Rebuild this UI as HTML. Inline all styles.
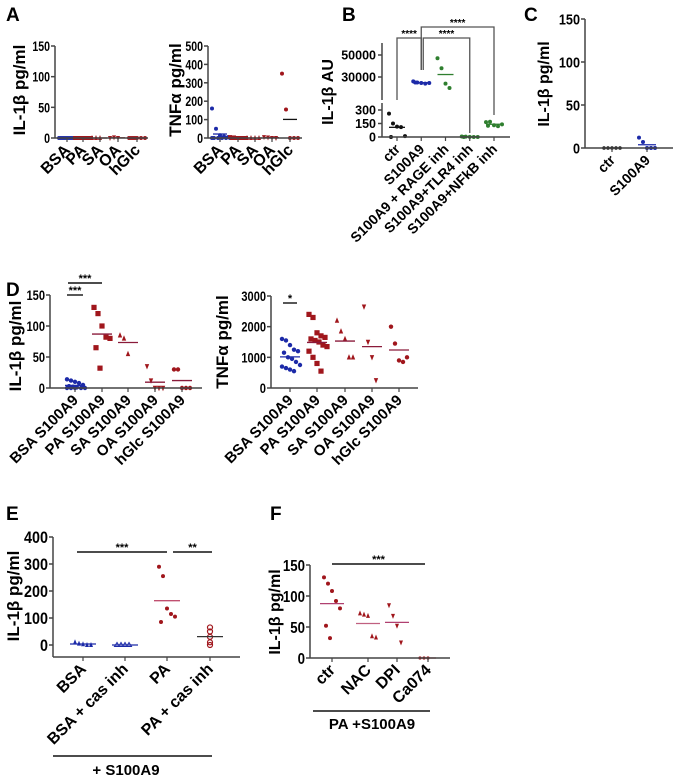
<!DOCTYPE html>
<html><head><meta charset="utf-8"><style>
html,body{margin:0;padding:0;background:#fff;}
svg{display:block;font-family:"Liberation Sans",Arial,sans-serif;font-weight:bold;}
</style></head><body>
<svg id="fig" width="676" height="781" viewBox="0 0 676 781"></svg>
<script>
// ---- data arrays ----
const aCats=["BSA","PA","SA","OA","hGlc"];
const aIL_BSA=[0,0,0,0,0,0,0,0,0],aIL_PA=[0,0,0,0,0,0,0,0,0],aIL_SA=[0,0,0],aIL_OA=[0,1,0],aIL_hGlc=[0,0,0,0,0,0,0];
const aTNF_BSA=[160,50,15,8,5,0,0,0,0,0,0],aTNF_PA=[5,3,0,0,0,0,0,0],aTNF_SA=[0,0,0,0],aTNF_OA=[5,3,0,0],aTNF_hGlc=[350,155,0,0,0];
const aILTicks=[0,50,100,150],aTNFTicks=[0,100,200,300,400,500];
const bCats=["ctr","S100A9","S100A9 + RAGE inh","S100A9+TLR4 inh","S100A9+NFkB inh"];
const bCtr=[260,150,115,110,10,0],bS100=[26000,25000,24500,24000,24500,25000],bRAGE=[47000,38000,24000,20000],bTLR4=[6,4,2,0,0,0],bNFkB=[165,170,130,120,140,125];
const bTicksLow=[0,150,300],bTicksHigh=[30000,50000];
const cCats=["ctr","S100A9"];
const cCtr=[0,0,0,0,0],cS100=[12,7,0,0,0];
const cTicks=[0,50,100,150];
const dCats=["BSA S100A9","PA S100A9","SA S100A9","OA S100A9","hGlc S100A9"];
const dIL_BSA=[14,12,10,8,5,3,2,1,0,0,0,0,0],dIL_PA=[130,120,100,82,80,65,32],dIL_SA=[85,80,55],dIL_OA=[35,12,0,0,0],dIL_hGlc=[30,30,0,0,0];
const dTNF_BSA=[1600,1550,1400,1250,1200,1150,1000,950,850,750,700,650,600,550],dTNF_PA=[2400,2300,1800,1700,1650,1600,1550,1500,1400,1350,1200,1000,800,550],dTNF_SA=[2200,1850,1600,1000,1000],dTNF_OA=[2650,1500,1000,250],dTNF_hGlc=[2000,1450,900,850,1000];
const dILTicks=[0,50,100,150],dTNFTicks=[0,1000,2000,3000];
const eCats=["BSA","BSA + cas inh","PA","PA + cas inh"];
const eBSA=[10,5,3,0,0],eBSAcas=[0,0,0,0],ePA=[290,255,135,115,105,85],ePAcas=[65,50,30,10,0];
const eTicks=[0,100,200,300,400];
const fCats=["ctr","NAC","DPI","Ca074"];
const fCtr=[130,120,108,92,80,52,32],fNAC=[72,70,68,35,33],fDPI=[85,68,52,25],fCa=[0,0,0];
const fTicks=[0,50,100,150];

const svg=document.getElementById('fig');
const NS="http://www.w3.org/2000/svg";
function mk(tag,attrs,parent){const e=document.createElementNS(NS,tag);for(const k in attrs)e.setAttribute(k,attrs[k]);(parent||svg).appendChild(e);return e;}
function txt(s,attrs,parent){const e=mk('text',attrs,parent);e.textContent=s;return e;}
const mean=a=>a.reduce((p,c)=>p+c,0)/a.length;
function marker(g,shape,x,y,col,r){
  let e;
  if(shape==='circle'){e=mk('circle',{cx:x,cy:y,r:r,fill:col},g);}
  else if(shape==='ocircle'){e=mk('circle',{cx:x,cy:y,r:r,fill:'none',stroke:col,'stroke-width':1.2},g);}
  else if(shape==='square'){e=mk('rect',{x:x-r,y:y-r,width:2*r,height:2*r,fill:col},g);}
  else if(shape==='tri'){e=mk('polygon',{points:`${x},${y-r-1} ${x-r},${y+r} ${x+r},${y+r}`,fill:col},g);}
  else if(shape==='otri'){e=mk('polygon',{points:`${x},${y-r} ${x-r},${y+r-1} ${x+r},${y+r-1}`,fill:'none',stroke:col,'stroke-width':1},g);}
  else {e=mk('polygon',{points:`${x-r},${y-r} ${x+r},${y-r} ${x},${y+r+1}`,fill:col},g);}
  return e;
}
function series(g,vals,cx,ys,col,shape,r,meanCol,mw){
  const n=vals.length;
  vals.forEach((v,i)=>{
    const off=((i%5)-2)*4+(Math.floor(i/5)%2?2:0);
    const m=marker(g,shape,cx+(n>1?off:0),ys(v),col,r);
    
    
  });
  const ml=mk('line',{x1:cx-mw,x2:cx+mw,y1:ys(mean(vals)),y2:ys(mean(vals)),stroke:meanCol||col,'stroke-width':1.3},g);
  
  
}
function axisY(g,x,y0,y1,ticks,ys,fs,wf){
  mk('line',{x1:x,x2:x,y1:y0,y2:y1,stroke:'#444','stroke-width':1.5},g);
  ticks.forEach(t=>{const y=ys(t);mk('line',{x1:x-4,x2:x,y1:y,y2:y,stroke:'#444','stroke-width':1.5},g);
    const s=String(t);
    txt(s,{x:x-5,y:y+fs*0.36,'text-anchor':'end','font-size':fs,textLength:(fs*(wf||0.47)*s.length).toFixed(1),lengthAdjust:'spacingAndGlyphs'},g);});
}
function axisX(g,x0,x1,y,xs,cats,fs){
  mk('line',{x1:x0,x2:x1,y1:y,y2:y,stroke:'#444','stroke-width':1.5},g);
  cats.forEach((c,i)=>{const x=xs[i];mk('line',{x1:x,x2:x,y1:y,y2:y+4,stroke:'#444','stroke-width':1.2},g);
    const t=txt(c,{x:x+4,y:y+13,'text-anchor':'end','font-size':fs,transform:`rotate(-45 ${x+4} ${y+13})`},g);
    
    });
}
function ytitle(g,s,x,y,fs){const t=txt(s,{x:x,y:y,'text-anchor':'middle','font-size':fs,transform:`rotate(-90 ${x} ${y})`},g);}
function plabel(s,x,y){const t=txt(s,{x:x,y:y,'font-size':19},svg);}
function lin(d0,d1,r0,r1){return v=>r0+(v-d0)*(r1-r0)/(d1-d0);}
function even(x0,x1,n){const a=[];for(let i=0;i<n;i++)a.push(x0+(x1-x0)*i/(n-1));return a;}
function grp(name){const g=mk('g',{});return g;}
function star(g,s,x1,x2,y){mk('line',{x1:x1,x2:x2,y1:y,y2:y,stroke:'#111','stroke-width':1.4},g);txt(s,{x:(x1+x2)/2,y:y-1,'text-anchor':'middle','font-size':11},g);}

const BL='#1c2aa8',RD='#a0161c',GR='#2f7f2f',BK='#111';

// Panel A
plabel('A',6,21);
{const g=grp('panel-a-il1b');const ys=lin(0,150,138,46);const xs=[67,83,100,118,137];
 axisY(g,55,46,138,aILTicks,ys,14,0.42);
 [aIL_BSA,aIL_PA,aIL_SA,aIL_OA,aIL_hGlc].forEach((s,i)=>series(g,s,xs[i],ys,i?RD:BL,['circle','square','tri','inv','circle'][i],2,i?RD:BL,7));
 axisX(g,55,148,138,xs,aCats,16);ytitle(g,'IL-1β pg/ml',25,90,17);}
{const g=grp('panel-a-tnf');const ys=lin(0,500,138,46);const xs=[220,238,255,272,290];
 axisY(g,208,46,138,aTNFTicks,ys,14,0.42);
 [aTNF_BSA,aTNF_PA,aTNF_SA,aTNF_OA,aTNF_hGlc].forEach((s,i)=>series(g,s,xs[i],ys,i?RD:BL,['circle','square','tri','inv','circle'][i],2,i==4?BK:(i?RD:BL),7));
 axisX(g,208,302,138,xs,aCats,16);ytitle(g,'TNFα pg/ml',181,90,17);}

// Panel B
plabel('B',342,21);
{const g=grp('panel-b');const xs=even(397,494,5);
 const yl=lin(0,300,137,110),yh=lin(30000,50000,77,55);
 const ys=v=>v>1000?yh(v):yl(v);
 mk('line',{x1:382,x2:382,y1:43,y2:100,stroke:'#444','stroke-width':1.5},g);
 mk('line',{x1:382,x2:382,y1:103,y2:137,stroke:'#444','stroke-width':1.5},g);
 bTicksHigh.forEach(t=>{mk('line',{x1:378,x2:382,y1:yh(t),y2:yh(t),stroke:'#444','stroke-width':1.5},g);txt(String(t),{x:376,y:yh(t)+4.5,'text-anchor':'end','font-size':12.5},g);});
 bTicksLow.forEach(t=>{mk('line',{x1:378,x2:382,y1:yl(t),y2:yl(t),stroke:'#444','stroke-width':1.5},g);txt(String(t),{x:376,y:yl(t)+4.5,'text-anchor':'end','font-size':12.5},g);});
 [bCtr,bS100,bRAGE,bTLR4,bNFkB].forEach((s,i)=>series(g,s,xs[i],ys,[BK,BL,GR,GR,GR][i],'circle',2,[BK,BL,GR,GR,GR][i],8));
 axisX(g,382,510,137,xs,bCats,14);ytitle(g,'IL-1β AU',333,92,16);
 const br=(x1,x2,ya,yb,yt,s)=>{mk('polyline',{points:`${x1},${ya} ${x1},${yt} ${x2},${yt} ${x2},${yb}`,fill:'none',stroke:'#555','stroke-width':1.3},g);txt(s,{x:(x1+x2)/2,y:yt-1,'text-anchor':'middle','font-size':10},g);};
 br(xs[0],xs[1],100,70,38,'****');br(xs[1]+2,xs[3],70,133,38,'****');br(xs[1],xs[4],70,115,27,'****');}

// Panel C
plabel('C',524,21);
{const g=grp('panel-c');const ys=lin(0,150,148,19);const xs=[612,647];
 axisY(g,585,19,148,cTicks,ys,15,0.47);
 series(g,cCtr,xs[0],ys,BK,'circle',1.8,BK,9);series(g,cS100,xs[1],ys,BL,'circle',2,BL,9);
 axisX(g,585,673,148,xs,cCats,14);ytitle(g,'IL-1β pg/ml',549,84,16);}

// Panel D
plabel('D',6,296);
{const g=grp('panel-d-il1b');const ys=lin(0,150,388,295);const xs=[75,102,128,155,182];
 axisY(g,50,295,388,dILTicks,ys,14,0.44);
 [dIL_BSA,dIL_PA,dIL_SA,dIL_OA,dIL_hGlc].forEach((s,i)=>series(g,s,xs[i],ys,i?RD:BL,['circle','square','tri','inv','circle'][i],i==1?2.6:2.2,i?'#8a1a3a':BL,10));
 axisX(g,50,202,388,xs,dCats,15);ytitle(g,'IL-1β pg/ml',21,346,17);
 star(g,'***',67,83,295);star(g,'***',68,102,283);}
{const g=grp('panel-d-tnf');const ys=lin(0,3000,388,296);const xs=[290,317,345,372,399];
 axisY(g,271,296,388,dTNFTicks,ys,14,0.44);
 [dTNF_BSA,dTNF_PA,dTNF_SA,dTNF_OA,dTNF_hGlc].forEach((s,i)=>series(g,s,xs[i],ys,i?RD:BL,['circle','square','tri','inv','circle'][i],i==1?2.6:2.2,i?'#8a1a3a':BL,10));
 axisX(g,271,418,388,xs,dCats,15);ytitle(g,'TNFα pg/ml',228,342,17);
 star(g,'*',283,297,303);}

// Panel E
plabel('E',6,520);
{const g=grp('panel-e');const ys=lin(0,400,645,537);const xs=[83,125,167,210];
 axisY(g,53,537,657,eTicks,ys,17,0.47);
 series(g,eBSA,xs[0],ys,BL,'tri',2,BL,13);series(g,eBSAcas,xs[1],ys,BL,'otri',2.5,BL,13);
 series(g,ePA,xs[2],ys,RD,'circle',2,'#c05070',13);
 const pc=mk('g',{},g);ePAcas.forEach((v,i)=>{const m=marker(pc,'ocircle',xs[3],ys(v),RD,2.5);});
 mk('line',{x1:xs[3]-13,x2:xs[3]+13,y1:ys(mean(ePAcas)),y2:ys(mean(ePAcas)),stroke:'#333','stroke-width':1.3},g);
 axisX(g,53,240,657,xs,eCats,16);ytitle(g,'IL-1β pg/ml',19,596,17);
 star(g,'***',77,167,552);star(g,'**',173,212,552);
 mk('line',{x1:53,x2:212,y1:756,y2:756,stroke:'#111','stroke-width':1.5},g);
 txt('+ S100A9',{x:126,y:775,'text-anchor':'middle','font-size':15},g);}

// Panel F
plabel('F',270,520);
{const g=grp('panel-f');const ys=lin(0,150,658,565);const xs=[332,368,397,428];
 axisY(g,310,565,658,fTicks,ys,16,0.46);
 series(g,fCtr,xs[0],ys,RD,'circle',2,'#b04070',12);series(g,fNAC,xs[1],ys,RD,'tri',2,'#c06080',12);
 series(g,fDPI,xs[2],ys,RD,'inv',2,'#b04070',12);series(g,fCa,xs[3],ys,RD,'circle',1.6,RD,8);
 axisX(g,310,450,658,xs,fCats,16);ytitle(g,'IL-1β pg/ml',280,612,16);
 star(g,'***',332,425,564);
 mk('line',{x1:313,x2:430,y1:711,y2:711,stroke:'#111','stroke-width':1.5},g);
 txt('PA +S100A9',{x:372,y:729,'text-anchor':'middle','font-size':15},g);}
</script>
</body></html>
